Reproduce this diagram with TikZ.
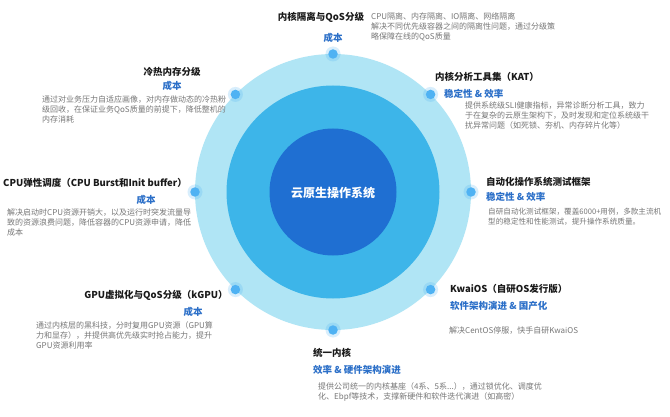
\documentclass[tikz,border=0pt]{standalone}
\usepackage{fontspec}
\usetikzlibrary{calc}
\setmainfont{Noto Sans CJK SC}
\definecolor{ringA}{HTML}{B0E5F5}
\definecolor{ringB}{HTML}{3DB5E9}
\definecolor{ringC}{HTML}{1F6FD2}
\definecolor{dotc}{HTML}{4FB2F3}
\definecolor{ttl}{HTML}{1A1A1A}
\definecolor{lbl}{HTML}{2B6FC8}
\definecolor{dsc}{HTML}{777777}
\tikzset{
  ttlbox/.style={inner sep=0pt, text=ttl, font=\fontsize{9.5}{11}\selectfont\bfseries},
  lblbox/.style={inner sep=0pt, text=lbl, font=\fontsize{9.5}{11}\selectfont\bfseries},
  dscbox/.style={inner sep=0pt, text=dsc, align=left, font=\fontsize{8}{10}\selectfont},
  dotglow/.style={circle, inner sep=0pt, minimum size=15pt, fill=dotc, fill opacity=0.22},
  dotcore/.style={circle, inner sep=0pt, minimum size=9.5pt, fill=dotc},
}
\begin{document}
\begin{tikzpicture}[x=1pt,y=-1pt]
\useasboundingbox (0,0) rectangle (670,417);
\fill[white] (0,0) rectangle (670,417);
% circles
\coordinate (c) at (333,192);
\node[circle, fill=ringA, minimum size=276pt, inner sep=0pt] (outer) at (c) {};
\node[circle, fill=ringB, minimum size=213pt, inner sep=0pt] (middle) at (c) {};
\node[circle, fill=ringC, minimum size=127pt, inner sep=0pt] (inner) at (c) {};
\node[inner sep=0pt, text=white, font=\fontsize{12}{14}\selectfont\bfseries] (core) at (333,193) {云原生操作系统};
% dots
\foreach \a/\n in {90/dT,135/dTL,45/dTR,0/dR,-45/dBR,-90/dB,-135/dBL,180/dL}{
  \node[dotglow] at ($(c)+(\a:138pt)$) {};
  \node[dotcore] (\n) at ($(c)+(\a:138pt)$) {};
}
% top
\node[ttlbox] (t1) at (321,17) {内核隔离与QoS分级};
\node[lblbox] (l1) at (333,38) {成本};
\node[dscbox, anchor=north west] (d1) at (371,12) {CPU隔离、内存隔离、IO隔离、网络隔离\\解决不同优先级容器之间的隔离性问题，通过分级策\\略保障在线的QoS质量};
% top-left
\node[ttlbox] (t2) at (172,72) {冷热内存分级};
\node[lblbox] (l2) at (172,86) {成本};
\node[dscbox, anchor=north west] (d2) at (42,96) {通过对业务压力自适应画像，对内存做动态的冷热粉\\级回收，在保证业务QoS质量的前提下，降低整机的\\内存消耗};
% top-right
\node[ttlbox, anchor=west] (t3) at (435,77) {内核分析工具集（KAT）};
\node[lblbox, anchor=west] (l3) at (444,94) {稳定性 \& 效率};
\node[dscbox, anchor=north west] (d3) at (465,102) {提供系统级SLI健康指标，异常诊断分析工具，致力\\于在复杂的云原生架构下，及时发现和定位系统级干\\扰异常问题（如死锁、夯机、内存碎片化等）};
% left
\node[ttlbox, anchor=west] (t4) at (3,183) {CPU弹性调度（CPU Burst和Init buffer）};
\node[lblbox] (l4) at (146,200) {成本};
\node[dscbox, anchor=north west] (d4) at (7,209) {解决启动时CPU资源开销大，以及运行时突发流量导\\致的资源浪费问题，降低容器的CPU资源申请，降低\\成本};
% right
\node[ttlbox, anchor=west] (t5) at (486,182) {自动化操作系统测试框架};
\node[lblbox, anchor=west] (l5) at (486,197) {稳定性 \& 效率};
\node[dscbox, anchor=north west, font=\fontsize{7.6}{10}\selectfont] (d5) at (488,208) {自研自动化测试框架，覆盖6000+用例，多款主流机\\型的稳定性和性能测试，提升操作系统质量。};
% bottom-left
\node[ttlbox] (t6) at (156,295) {GPU虚拟化与QoS分级（kGPU）};
\node[lblbox] (l6) at (193,312) {成本};
\node[dscbox, anchor=north west] (d6) at (36,321) {通过内核层的黑科技，分时复用GPU资源（GPU算\\力和显存），并提供高优先级实时抢占能力，提升\\GPU资源利用率};
% bottom-right
\node[ttlbox, anchor=west] (t7) at (450,289) {KwaiOS（自研OS发行版）};
\node[lblbox, anchor=west] (l7) at (450,306) {软件架构演进 \& 国产化};
\node[dscbox, anchor=west] (d7) at (449,331) {解决CentOS停服，快手自研KwaiOS};
% bottom
\node[ttlbox, anchor=west] (t8) at (313,353) {统一内核};
\node[lblbox, anchor=west] (l8) at (313,370) {效率 \& 硬件架构演进};
\node[dscbox, anchor=north west] (d8) at (318,382) {提供公司统一的内核基座（4系、5系...），通过锁优化、调度优\\化、Ebpf等技术，支撑新硬件和软件迭代演进（如高密）};
\end{tikzpicture}
\end{document}
